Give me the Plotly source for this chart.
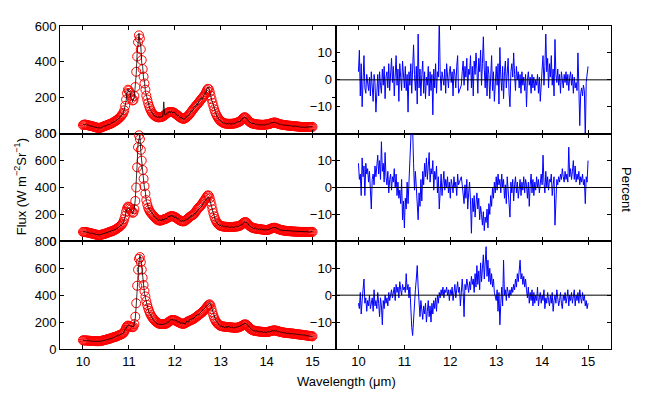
import numpy as np
import plotly.graph_objects as go

# Wavelength sampling (micron)
wavelength = np.linspace(10.0, 15.0, 251)

# Model fits (red circles), W m^-2 Sr^-1
model_top = [
    48, 50, 51, 50, 49, 48, 46, 45, 44, 43, 42, 40, 38, 37, 35, 34, 33, 32, 31, 33, 35, 37, 39, 41, 43,
    45, 47, 49, 51, 53, 55, 57, 60, 63, 66, 69, 72, 76, 80, 85, 90, 95, 101, 108, 116, 130, 155, 190, 225, 245,
    240, 228, 212, 196, 185, 188, 210, 260, 345, 430, 510, 548, 530, 470, 410, 360, 318, 280, 245, 212, 190, 170, 153, 140, 128,
    118, 111, 105, 100, 97, 94, 92, 91, 91, 92, 93, 94, 96, 99, 103, 108, 112, 116, 119, 120, 121, 121, 120, 119, 117,
    114, 110, 106, 102, 98, 94, 90, 87, 85, 83, 83, 85, 89, 93, 97, 102, 108, 115, 122, 129, 136, 142, 149, 155, 161,
    167, 173, 180, 186, 193, 199, 205, 212, 220, 230, 242, 250, 248, 232, 212, 192, 172, 154, 136, 120, 108, 98, 89, 81, 75,
    70, 66, 63, 60, 58, 57, 56, 55, 55, 55, 55, 55, 55, 56, 56, 57, 58, 60, 62, 64, 66, 69, 73, 78, 84,
    89, 92, 90, 85, 79, 73, 68, 64, 60, 58, 56, 55, 54, 53, 52, 51, 51, 50, 50, 50, 49, 49, 50, 50, 51,
    51, 52, 53, 54, 56, 58, 60, 61, 62, 62, 61, 59, 57, 55, 53, 52, 51, 50, 49, 48, 47, 47, 46, 45, 45,
    44, 44, 43, 43, 42, 42, 41, 41, 40, 40, 39, 38, 38, 38, 37, 37, 37, 37, 37, 37, 37, 37, 37, 37, 37, 38,
]
model_mid = [
    70, 70, 69, 68, 67, 66, 64, 62, 61, 59, 58, 56, 54, 52, 50, 49, 48, 47, 46, 47, 49, 51, 53, 55, 57,
    59, 61, 64, 67, 70, 72, 74, 76, 79, 82, 86, 90, 94, 99, 104, 110, 116, 123, 132, 145, 165, 190, 220, 245, 258,
    255, 246, 236, 222, 212, 215, 240, 300, 400, 550, 700, 788, 760, 680, 600, 530, 465, 410, 355, 306, 275, 250, 233, 220, 211,
    203, 195, 187, 179, 172, 166, 161, 157, 155, 154, 155, 157, 160, 163, 165, 167, 170, 174, 178, 182, 185, 187, 187, 186, 184,
    181, 177, 172, 167, 162, 158, 154, 151, 149, 148, 149, 152, 157, 162, 168, 174, 180, 185, 190, 194, 197, 203, 212, 222, 233,
    242, 250, 256, 263, 272, 281, 292, 302, 311, 322, 334, 342, 338, 320, 295, 268, 238, 210, 186, 166, 150, 139, 130, 123, 118,
    115, 113, 111, 110, 109, 108, 108, 107, 107, 107, 107, 107, 107, 107, 108, 108, 109, 110, 111, 112, 114, 117, 121, 126, 132,
    138, 142, 143, 140, 133, 125, 118, 112, 107, 103, 100, 98, 96, 95, 94, 93, 92, 91, 90, 89, 88, 87, 86, 85, 85,
    84, 85, 87, 89, 92, 95, 98, 100, 101, 101, 99, 96, 93, 90, 88, 86, 84, 82, 81, 80, 79, 78, 77, 76, 76,
    75, 75, 74, 74, 73, 73, 72, 72, 71, 71, 71, 70, 70, 70, 70, 70, 70, 70, 70, 70, 70, 70, 70, 70, 70, 70,
]
model_bot = [
    65, 64, 64, 63, 63, 62, 62, 61, 61, 60, 60, 59, 59, 59, 58, 58, 58, 58, 58, 59, 60, 62, 64, 66, 67,
    69, 71, 73, 75, 77, 79, 81, 84, 86, 88, 90, 92, 95, 98, 101, 104, 107, 110, 113, 118, 128, 142, 158, 170, 174,
    172, 169, 166, 164, 162, 165, 185, 240, 340, 470, 590, 670, 683, 645, 590, 530, 475, 430, 390, 356, 327, 303, 283, 266, 252,
    240, 230, 221, 213, 206, 200, 195, 191, 188, 187, 186, 186, 186, 186, 186, 187, 190, 194, 199, 204, 209, 213, 215, 216, 215,
    213, 210, 207, 203, 199, 196, 193, 190, 188, 187, 188, 191, 195, 199, 203, 207, 210, 213, 216, 219, 222, 226, 231, 236, 242,
    247, 252, 257, 263, 268, 274, 281, 289, 296, 304, 313, 322, 329, 332, 320, 296, 272, 250, 230, 215, 203, 193, 186, 180, 175,
    172, 170, 168, 167, 166, 165, 164, 163, 163, 162, 162, 161, 160, 159, 158, 158, 158, 158, 159, 160, 162, 165, 168, 172, 176,
    180, 183, 183, 180, 174, 167, 160, 153, 147, 142, 139, 137, 135, 134, 133, 132, 131, 130, 129, 128, 128, 127, 127, 126, 126,
    126, 127, 128, 130, 132, 134, 136, 137, 138, 138, 137, 135, 133, 131, 129, 127, 126, 124, 123, 122, 121, 120, 119, 118, 118,
    117, 116, 116, 115, 114, 113, 112, 111, 110, 109, 108, 107, 107, 106, 105, 104, 103, 102, 101, 100, 99, 98, 97, 96, 95, 94,
]

# Residuals (percent), right-hand panels
res_top = [
    3, 11, -6, 6, -10, 4, 9, -3, -5, 2, -2, -4, 1, -6, 3, -3, -8, 2, -1, -12, -4, 2, -6, 3, -2,
    -5, 4, -2, 5, -7, 1, 3, -3, 6, -4, 2, 8, -1, 5, -6, 3, 9, -2, 4, -8, 6, 1, -4, 7, 2,
    -3, 5, -4, 2, -12, 3, -2, 6, -5, 4, 13, 2, -4, 5, -9, 17, -3, 4, -6, 2, 7, -5, 3, -7, 1,
    -2, 5, -6, 3, -4, 2, -13, 4, -3, 6, -5, 3, 1, 24, 2, -4, 3, 1, -2, 4, -5, 6, 0, -3, 3,
    5, -1, 3, -6, 4, 2, -3, 5, 9, -5, -4, -3, -2, 3, 7, -2, 5, 1, 8, -4, 4, 2, 9, -3, 5,
    -6, 7, 2, 10, 4, -5, 8, 3, 11, -2, 6, 16, 4, -3, 7, -6, 5, 2, -7, 4, 9, -4, 3, -8, 2,
    5, -2, 6, -9, 12, 1, -4, 5, -7, 3, 7, -3, 4, 8, -5, -10, 3, 6, 1, 10, 2, -4, 5, 0, 3,
    -3, 2, -5, 3, -2, 1, -4, 2, -10, 0, 3, -2, 1, -5, 2, -3, 1, -4, 0, -2, 2, -5, 1, -8, 2,
    4, 9, -2, 5, 17, 3, 8, -3, 6, 1, 9, -2, 4, -6, 15, 2, -1, 4, -2, 2, -5, 3, 0, -3, 2,
    -1, 3, -2, 2, -4, 1, 3, -2, 2, -5, 1, -3, -1, -4, 10, -3, -17, -5, -3, -6, -2, -4, -22, -1, 3, 5,
]
res_mid = [
    9, 3, 5, -3, 11, 4, 8, -3, 9, 5, 7, 2, 6, -1, -8, 3, 5, 1, 8, 4, 7, 12, 5, 10, 3,
    17, 6, 9, 2, 13, 4, 1, 6, -2, 3, 5, -1, 4, 2, 7, 0, 5, -3, 2, -4, -1, -6, 3, -12, -5,
    -15, -4, -8, 2, -6, 5, 9, 18, 26, 22, 9, -1, 6, -2, -6, -12, -2, -7, 3, -5, 6, 1, 9, 4, 11,
    3, 8, 13, 2, 7, 5, 10, -1, 6, 3, 8, -2, 4, -8, 1, 5, -3, 2, 6, -1, 3, 0, 4, -2, 2,
    -4, 3, 1, -2, 4, 0, 2, -3, 5, 1, 2, 3, 4, 1, -2, -6, 1, -4, 3, -8, -2, 2, -5, -17, -4,
    -9, -3, -11, -6, -2, -8, -4, -12, -7, -10, -14, -9, -16, -11, -13, -8, -15, -6, -10, -3, -7, 0, -4, 2, -2,
    4, -1, 5, 1, 3, -2, 5, 0, 3, -4, 1, -6, 4, -1, -3, -11, 2, -2, 3, -5, 1, 4, -2, 2, -4,
    0, 3, -3, 2, -1, 4, -2, 3, 1, -4, 2, -7, 1, 5, -2, 3, -3, 2, -1, 4, 0, 3, -2, 2, 5,
    1, 12, 2, -2, 6, 0, 4, -1, 3, 2, 5, -3, 1, 4, -14, -2, 3, 1, 4, 2, 5, 3, 7, 4, 2,
    6, 3, 5, 2, 15, 4, 7, 3, 6, 10, 3, 8, 2, 5, 3, 6, 1, 4, 2, 5, 1, 3, -6, 4, 2, 10,
]
res_bot = [
    -3, -5, 1, -7, -2, 2, 6, -3, -1, -6, -2, -4, 0, -5, -3, -1, -6, 2, -4, -2, -5, 1, -3, -8, -1,
    -4, -11, -2, -5, 0, -3, -1, -4, 1, -2, 0, 2, -1, 1, 3, -2, 4, 1, 3, -1, 5, 2, 0, 4, 2,
    3, 1, 8, 2, 4, -1, 3, -6, -12, -15, -8, -4, 2, 6, 11, 3, -3, -8, -2, -6, -9, -4, -7, -3, -10,
    -6, -2, -8, -4, -10, -3, -7, -2, -5, -1, -6, 0, -3, 1, -1, 2, 0, 3, -1, 2, 1, 3, 0, 2, -2,
    2, 0, 3, -2, 1, 4, -1, 2, 5, 1, 3, -4, 2, 6, 1, -8, 4, 2, 6, 3, 1, 5, 2, 7, 4,
    6, 1, 8, 3, 11, 4, 9, 2, 12, 5, 10, 15, 6, 12, 18, 7, 13, 5, 10, 4, 8, 3, 6, 1, -1,
    -2, 2, -6, 1, -11, -3, 3, -4, 13, 0, 2, -2, 3, 1, -1, 2, 0, 3, 1, 4, 2, 6, 3, 8, 5,
    9, 13, 6, 8, 4, 7, 3, 6, 2, -1, 3, -3, 1, -2, 2, -4, 1, -3, 0, -2, 3, -4, -1, 1, -3,
    0, -2, 2, -5, -1, -3, 1, -2, -4, 0, -3, 1, -6, -2, 0, -3, 2, -1, -4, -2, 1, -3, -5, 0, -2,
    1, -3, -1, 2, -4, 0, -2, 1, -3, -1, 2, -4, 0, -2, 1, -3, 2, -1, -3, 1, -2, 0, -4, -2, -5, -3,
]

# Small deviations of the observed spectrum (black line) from the model, percent
obs_dev_top = [0] * 88 + [75] + [0] * 162
obs_dev_limit = 4

x_ticks = [10, 11, 12, 13, 14, 15]
flux_ticks_top = [0, 200, 400, 600]
flux_ticks = [0, 200, 400, 600, 800]
pct_ticks = [-10, 0, 10]

FONT = "Liberation Sans, Arial, Helvetica, sans-serif"

models = [model_top, model_mid, model_bot]
residuals = [res_top, res_mid, res_bot]
flux_ranges = [[0, 600], [0, 800], [0, 800]]
flux_tickvals = [flux_ticks_top, flux_ticks, flux_ticks]

fig = go.Figure()
row_domains = [[2 / 3, 1.0], [1 / 3, 2 / 3], [0.0, 1 / 3]]
col_domains = [[0.0, 0.5], [0.5, 1.0]]

axis_common = dict(
    showline=True, linecolor="black", linewidth=1, mirror="allticks",
    ticks="inside", ticklen=4, tickwidth=1, tickcolor="black",
    showgrid=False, zeroline=False,
    tickfont=dict(family=FONT, size=13, color="black"),
)

for r in range(3):
    model = np.array(models[r], dtype=float)
    res = np.array(residuals[r], dtype=float)
    dev = np.clip(res, -obs_dev_limit, obs_dev_limit)
    if r == 0:
        dev = dev + np.array(obs_dev_top, dtype=float)
    observed = model * (1 + dev / 100.0)
    for c in range(2):
        k = 2 * r + c + 1
        xa = "x" if k == 1 else f"x{k}"
        ya = "y" if k == 1 else f"y{k}"
        if c == 0:
            fig.add_trace(go.Scatter(
                x=wavelength, y=model, mode="markers", xaxis=xa, yaxis=ya,
                marker=dict(symbol="circle-open", size=9, color="#ff0000", line=dict(width=1)),
                cliponaxis=False, showlegend=False, hoverinfo="skip"))
            fig.add_trace(go.Scatter(
                x=wavelength, y=observed, mode="lines", xaxis=xa, yaxis=ya,
                line=dict(color="black", width=0.8), showlegend=False))
            yr, yt = flux_ranges[r], flux_tickvals[r]
        else:
            fig.add_trace(go.Scatter(
                x=wavelength, y=res, mode="lines", xaxis=xa, yaxis=ya,
                line=dict(color="#0000ff", width=1), showlegend=False))
            yr, yt = [-20, 20], pct_ticks
            fig.add_shape(type="line", xref=f"{xa} domain", yref=ya,
                          x0=0, x1=1, y0=0, y1=0, layer="above",
                          line=dict(color="black", width=1))
        xkey = "xaxis" if k == 1 else f"xaxis{k}"
        ykey = "yaxis" if k == 1 else f"yaxis{k}"
        fig.layout[xkey] = dict(
            domain=col_domains[c], anchor=ya, range=[9.5, 15.5], tickvals=x_ticks,
            showticklabels=(r == 2), **axis_common)
        fig.layout[ykey] = dict(
            domain=row_domains[r], anchor=xa, range=yr, tickvals=yt,
            showticklabels=True, **axis_common)

title_font = dict(family=FONT, size=13, color="black")
fig.add_annotation(text="Wavelength (\u03bcm)", xref="paper", yref="paper",
                   x=0.52, y=-0.1, showarrow=False, font=title_font,
                   xanchor="center", yanchor="middle")
fig.add_annotation(text="Flux (W m<sup>\u22122</sup>Sr<sup>\u22121</sup>)", xref="paper", yref="paper",
                   x=-0.073, y=0.503, showarrow=False, font=title_font, textangle=-90,
                   xanchor="center", yanchor="middle")
fig.add_annotation(text="Percent", xref="paper", yref="paper",
                   x=1.029, y=0.492, showarrow=False, font=title_font, textangle=90,
                   xanchor="center", yanchor="middle")

# The page body adds an 8px offset; size the figure so the plot area lands where the reference has it.
fig.update_layout(
    width=637, height=391,
    margin=dict(l=52, r=34, t=11, b=50),
    paper_bgcolor="white", plot_bgcolor="white",
    showlegend=False,
)

fig.write_html("out.html")
